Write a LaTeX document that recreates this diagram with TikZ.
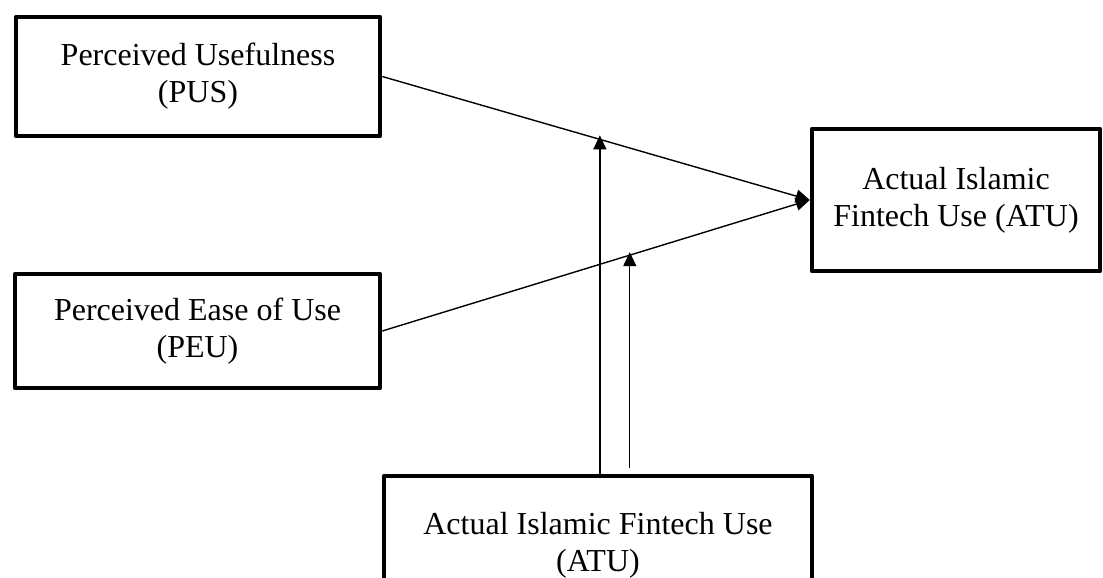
\documentclass[tikz,border=0pt]{standalone}
\usepackage{fontspec}
\setmainfont{Liberation Serif}
\usetikzlibrary{arrows.meta,calc}
\begin{document}
\begin{tikzpicture}[x=1pt,y=-1pt,
  box/.style={draw, line width=4.5pt, line join=round, align=center, inner sep=0pt,
    font=\fontsize{32}{37}\selectfont},
  link/.style={line width=1.4pt, -{Triangle[length=14pt,width=13pt]}},
]
\useasboundingbox (0,0) rectangle (1103,578);
\node[box, minimum width=364pt, minimum height=119pt] (pus) at (198,76.5) {Perceived Usefulness\\(PUS)};
\node[box, minimum width=365pt, minimum height=114pt] (peu) at (197.5,331) {Perceived Ease of Use\\(PEU)};
\node[box, minimum width=288pt, minimum height=142pt] (atu) at (956,200) {Actual Islamic\\Fintech Use (ATU)};
\node[box, minimum width=428pt, minimum height=138pt] (bot) at (598,545) {Actual Islamic Fintech Use\\(ATU)};
\draw[link] (pus.east) -- (atu.west) coordinate[pos=0.509] (m1);
\draw[link] (peu.east) -- (atu.west) coordinate[pos=0.579] (m2);
\coordinate (b2) at ([yshift=6pt]bot.north -| m2);
\draw[link] (bot.north -| m1) -- ([yshift=4pt]m1);
\draw[link] (b2) -- ([yshift=3pt]m2);
\end{tikzpicture}
\end{document}
